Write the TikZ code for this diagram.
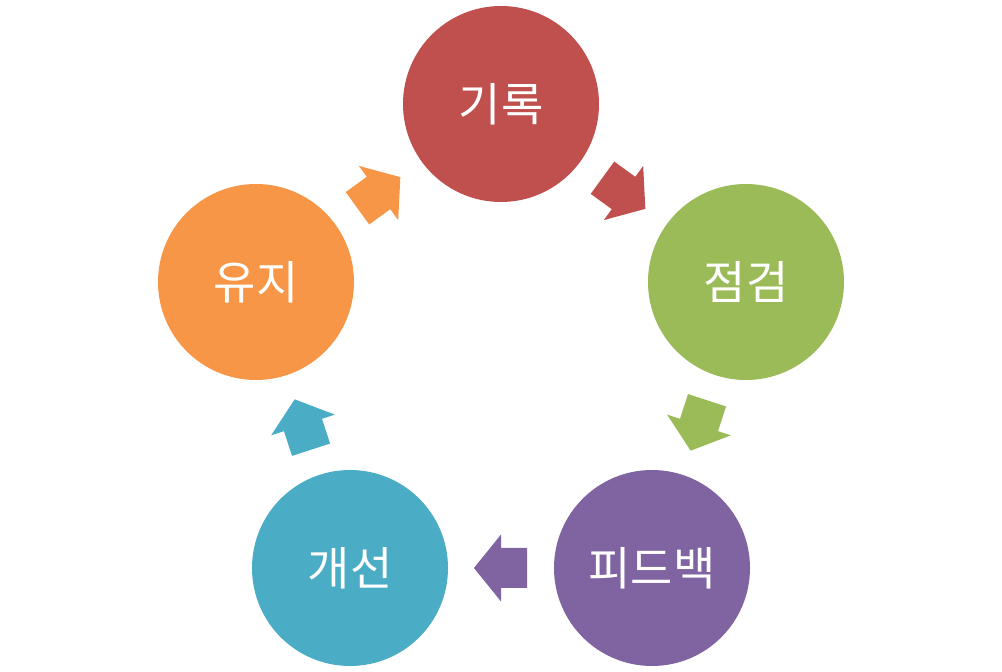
\documentclass[tikz,border=0pt]{standalone}
\usepackage{fontspec}
\newfontfamily\krfont{Noto Sans CJK KR}
\usetikzlibrary{calc}
\definecolor{cred}{HTML}{C0504D}
\definecolor{cgreen}{HTML}{9BBB59}
\definecolor{cpurple}{HTML}{8064A2}
\definecolor{cteal}{HTML}{4BACC6}
\definecolor{corange}{HTML}{F79646}
\tikzset{
  circ/.style={circle, minimum size=196pt, inner sep=0pt, fill=#1, text=white,
    font=\krfont\fontsize{46}{46}\selectfont},
  blockarr/.pic={\fill (-26,-20) -- (0,-20) -- (0,-33.5) -- (27,0) -- (0,33.5) -- (0,20) -- (-26,20) -- cycle;}
}
\begin{document}
\begin{tikzpicture}[x=1pt,y=1pt]
\useasboundingbox (0,0) rectangle (1002,672);
\node[circ=cred] (a) at (501,568) {기록};
\node[circ=cgreen] (b) at (746,390) {점검};
\node[circ=cpurple] (c) at (652,104) {피드백};
\node[circ=cteal] (d) at (350,104) {개선};
\node[circ=corange] (e) at (256,390) {유지};
\pic[cred, rotate=-36] at ($(a)!0.5!(b)$) {blockarr};
\pic[cgreen, rotate=-108] at ($(b)!0.5!(c)$) {blockarr};
\pic[cpurple, rotate=180] at ($(c)!0.5!(d)$) {blockarr};
\pic[cteal, rotate=108] at ($(d)!0.5!(e)$) {blockarr};
\pic[corange, rotate=36] at ($(e)!0.5!(a)$) {blockarr};
\end{tikzpicture}
\end{document}
